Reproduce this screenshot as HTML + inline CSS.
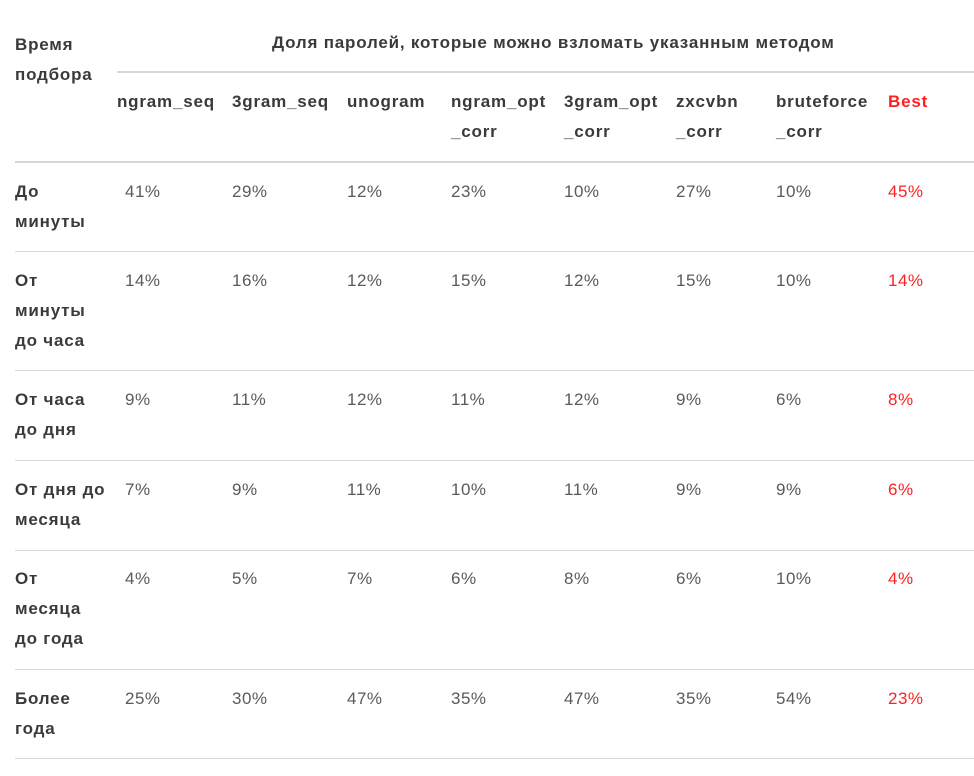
<!DOCTYPE html>
<html><head><meta charset="utf-8"><style>
body{margin:0;width:974px;height:776px;background:#fff;position:relative;overflow:hidden;font-family:"Liberation Sans","DejaVu Sans",sans-serif;font-size:17px;letter-spacing:0.5px}
.t{position:absolute;line-height:30px;white-space:nowrap}
.h{color:#3a3a3a;font-weight:bold;letter-spacing:0.8px}
.d{color:#5a5a5a}
.r{color:#ff2020}
.l{position:absolute;height:1px;background:#d8d8d8;right:0}
</style></head><body>
<div class="l" style="left:117px;top:71px;height:2px"></div>
<div class="l" style="left:15px;top:161px;height:2px"></div>
<div class="l" style="left:15px;top:251px"></div>
<div class="l" style="left:15px;top:370px"></div>
<div class="l" style="left:15px;top:460px"></div>
<div class="l" style="left:15px;top:550px"></div>
<div class="l" style="left:15px;top:669px"></div>
<div class="l" style="left:15px;top:758px"></div>

<div class="t h" style="left:15px;top:30px">Время<br>подбора</div>
<div class="t h" style="left:272px;top:28px">Доля паролей, которые можно взломать указанным методом</div>
<div class="t h" style="left:117px;top:87px">ngram_seq</div>
<div class="t h" style="left:232px;top:87px">3gram_seq</div>
<div class="t h" style="left:347px;top:87px">unogram</div>
<div class="t h" style="left:451px;top:87px">ngram_opt<br>_corr</div>
<div class="t h" style="left:564px;top:87px">3gram_opt<br>_corr</div>
<div class="t h" style="left:676px;top:87px">zxcvbn<br>_corr</div>
<div class="t h" style="left:776px;top:87px">bruteforce<br>_corr</div>
<div class="t h r" style="left:888px;top:87px">Best</div>

<div class="t h" style="left:15px;top:177px">До<br>минуты</div>
<div class="t h" style="left:15px;top:266px">От<br>минуты<br>до часа</div>
<div class="t h" style="left:15px;top:385px">От часа<br>до дня</div>
<div class="t h" style="left:15px;top:475px">От дня до<br>месяца</div>
<div class="t h" style="left:15px;top:564px">От<br>месяца<br>до года</div>
<div class="t h" style="left:15px;top:684px">Более<br>года</div>

<div class="t d" style="left:125px;top:177px">41%</div><div class="t d" style="left:232px;top:177px">29%</div><div class="t d" style="left:347px;top:177px">12%</div><div class="t d" style="left:451px;top:177px">23%</div><div class="t d" style="left:564px;top:177px">10%</div><div class="t d" style="left:676px;top:177px">27%</div><div class="t d" style="left:776px;top:177px">10%</div><div class="t r" style="left:888px;top:177px">45%</div>
<div class="t d" style="left:125px;top:266px">14%</div><div class="t d" style="left:232px;top:266px">16%</div><div class="t d" style="left:347px;top:266px">12%</div><div class="t d" style="left:451px;top:266px">15%</div><div class="t d" style="left:564px;top:266px">12%</div><div class="t d" style="left:676px;top:266px">15%</div><div class="t d" style="left:776px;top:266px">10%</div><div class="t r" style="left:888px;top:266px">14%</div>
<div class="t d" style="left:125px;top:385px">9%</div><div class="t d" style="left:232px;top:385px">11%</div><div class="t d" style="left:347px;top:385px">12%</div><div class="t d" style="left:451px;top:385px">11%</div><div class="t d" style="left:564px;top:385px">12%</div><div class="t d" style="left:676px;top:385px">9%</div><div class="t d" style="left:776px;top:385px">6%</div><div class="t r" style="left:888px;top:385px">8%</div>
<div class="t d" style="left:125px;top:475px">7%</div><div class="t d" style="left:232px;top:475px">9%</div><div class="t d" style="left:347px;top:475px">11%</div><div class="t d" style="left:451px;top:475px">10%</div><div class="t d" style="left:564px;top:475px">11%</div><div class="t d" style="left:676px;top:475px">9%</div><div class="t d" style="left:776px;top:475px">9%</div><div class="t r" style="left:888px;top:475px">6%</div>
<div class="t d" style="left:125px;top:564px">4%</div><div class="t d" style="left:232px;top:564px">5%</div><div class="t d" style="left:347px;top:564px">7%</div><div class="t d" style="left:451px;top:564px">6%</div><div class="t d" style="left:564px;top:564px">8%</div><div class="t d" style="left:676px;top:564px">6%</div><div class="t d" style="left:776px;top:564px">10%</div><div class="t r" style="left:888px;top:564px">4%</div>
<div class="t d" style="left:125px;top:684px">25%</div><div class="t d" style="left:232px;top:684px">30%</div><div class="t d" style="left:347px;top:684px">47%</div><div class="t d" style="left:451px;top:684px">35%</div><div class="t d" style="left:564px;top:684px">47%</div><div class="t d" style="left:676px;top:684px">35%</div><div class="t d" style="left:776px;top:684px">54%</div><div class="t r" style="left:888px;top:684px">23%</div>
</body></html>
